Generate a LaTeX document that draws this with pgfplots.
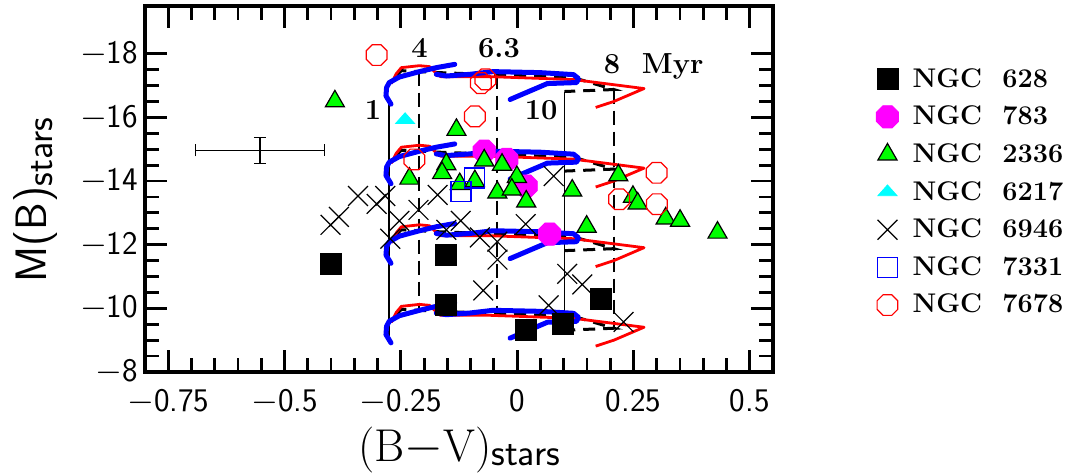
\documentclass[border=0pt]{standalone}
\usepackage{pgfplots}
\usepackage{pgfplotstable}
\pgfplotsset{compat=1.18}

\definecolor{mymag}{rgb}{1,0,1}
\definecolor{mycyan}{rgb}{0,1,1}
\definecolor{mygreen}{rgb}{0,1,0}
\definecolor{myred}{rgb}{1,0,0}
\definecolor{myblue}{rgb}{0,0,1}

% octagon marks (open and filled) and an open square
\pgfdeclareplotmark{octagon}{%
  \pgfpathmoveto{\pgfqpointpolar{22.5}{\pgfplotmarksize}}%
  \pgfpathlineto{\pgfqpointpolar{67.5}{\pgfplotmarksize}}%
  \pgfpathlineto{\pgfqpointpolar{112.5}{\pgfplotmarksize}}%
  \pgfpathlineto{\pgfqpointpolar{157.5}{\pgfplotmarksize}}%
  \pgfpathlineto{\pgfqpointpolar{202.5}{\pgfplotmarksize}}%
  \pgfpathlineto{\pgfqpointpolar{247.5}{\pgfplotmarksize}}%
  \pgfpathlineto{\pgfqpointpolar{292.5}{\pgfplotmarksize}}%
  \pgfpathlineto{\pgfqpointpolar{337.5}{\pgfplotmarksize}}%
  \pgfpathclose\pgfusepathqstroke}
\pgfdeclareplotmark{octagon*}{%
  \pgfpathmoveto{\pgfqpointpolar{22.5}{\pgfplotmarksize}}%
  \pgfpathlineto{\pgfqpointpolar{67.5}{\pgfplotmarksize}}%
  \pgfpathlineto{\pgfqpointpolar{112.5}{\pgfplotmarksize}}%
  \pgfpathlineto{\pgfqpointpolar{157.5}{\pgfplotmarksize}}%
  \pgfpathlineto{\pgfqpointpolar{202.5}{\pgfplotmarksize}}%
  \pgfpathlineto{\pgfqpointpolar{247.5}{\pgfplotmarksize}}%
  \pgfpathlineto{\pgfqpointpolar{292.5}{\pgfplotmarksize}}%
  \pgfpathlineto{\pgfqpointpolar{337.5}{\pgfplotmarksize}}%
  \pgfpathclose\pgfusepathqfillstroke}
\pgfdeclareplotmark{osquare}{%
  \pgfpathrectangle{\pgfqpoint{-\pgfplotmarksize}{-\pgfplotmarksize}}{\pgfqpoint{2\pgfplotmarksize}{2\pgfplotmarksize}}%
  \pgfusepathqstroke}

% tracks: one column per mass (shifted copies)
\pgfplotstableread{
x m1 m2 m3 m4
-0.2712 -16.416 -13.916 -11.416 -8.916
-0.2820 -16.675 -14.175 -11.675 -9.175
-0.2807 -16.938 -14.438 -11.938 -9.438
-0.2749 -17.094 -14.594 -12.094 -9.594
-0.2532 -17.269 -14.769 -12.269 -9.769
-0.2100 -17.438 -14.938 -12.438 -9.938
-0.1738 -17.563 -15.063 -12.563 -10.063
-0.1342 -17.666 -15.166 -12.666 -10.166
}\blueA
\pgfplotstableread{
x m1 m2 m3 m4
-0.1738 -17.353 -14.853 -12.353 -9.853
-0.1522 -17.300 -14.800 -12.300 -9.800
-0.1017 -17.353 -14.853 -12.353 -9.853
-0.0519 -17.438 -14.938 -12.438 -9.938
0.0498 -17.406 -14.906 -12.406 -9.906
0.1212 -17.344 -14.844 -12.344 -9.844
0.1320 -17.219 -14.719 -12.219 -9.719
0.1277 -17.094 -14.594 -12.094 -9.594
0.0649 -17.063 -14.563 -12.063 -9.563
-0.0152 -16.563 -14.063 -11.563 -9.063
}\blueB
\pgfplotstableread{
x m1 m2 m3 m4
-0.2705 -17.060 -14.560 -12.060 -9.560
-0.2597 -17.375 -14.875 -12.375 -9.875
-0.2489 -17.563 -15.063 -12.563 -10.063
-0.2100 -17.625 -15.125 -12.625 -10.125
-0.1883 -17.594 -15.094 -12.594 -10.094
-0.1732 -17.375 -14.875 -12.375 -9.875
-0.1645 -17.281 -14.781 -12.281 -9.781
-0.0584 -17.281 -14.781 -12.281 -9.781
0.1212 -17.188 -14.688 -12.188 -9.688
0.2727 -16.906 -14.406 -11.906 -9.406
0.2078 -16.500 -14.000 -11.500 -9.000
0.1688 -16.313 -13.813 -11.313 -8.813
}\redtrk
\pgfplotstableread{
x m1 m2 m3 m4
-0.2597 -17.313 -14.813 -12.313 -9.813
-0.2489 -17.469 -14.969 -12.469 -9.969
-0.2100 -17.438 -14.938 -12.438 -9.938
-0.1667 -17.406 -14.906 -12.406 -9.906
0.1212 -17.250 -14.750 -12.250 -9.750
0.2078 -16.875 -14.375 -11.875 -9.375
0.1017 -16.813 -14.313 -11.813 -9.313
}\blktrk

\begin{document}
\begin{tikzpicture}
\begin{axis}[
  name=ax,
  width=314pt, height=183pt, scale only axis,
  xmin=-0.8, xmax=0.55, ymin=-19.5, ymax=-8, y dir=reverse,
  xtick={-0.75,-0.5,-0.25,0,0.25,0.5},
  xticklabels={$-$0.75,$-$0.5,$-$0.25,0,0.25,0.5},
  ytick={-18,-16,-14,-12,-10,-8},
  yticklabels={$-$18,$-$16,$-$14,$-$12,$-$10,$-$8},
  minor x tick num=4, minor y tick num=3,
  tick align=inside,
  major tick length=11pt, minor tick length=7pt,
  every tick/.style={black, line width=1.4pt},
  axis line style={line width=1.6pt},
  tick label style={font=\fontsize{16.5}{20}\selectfont\sffamily},
  xticklabel style={yshift=-5pt},
  xlabel={{\fontsize{23}{26}\selectfont\rmfamily (B$-$V)}\raisebox{-0.22em}{\fontsize{19}{20}\selectfont\sffamily stars}},
  xlabel style={at={(axis description cs:0.5,-0.212)}, anchor=center},
  ylabel={{\fontsize{22}{26}\selectfont\sffamily M(B)}\raisebox{-0.3em}{\fontsize{19}{20}\selectfont\sffamily stars}},
  ylabel style={at={(axis description cs:-0.175,0.47)}, anchor=center},
  legend cell align=left,
  legend image code/.code={\draw[mark repeat=2,mark phase=2,#1] plot coordinates {(0pt,0pt) (7pt,0pt) (14pt,0pt)};},
  legend style={at={(axis description cs:1.164,0.842)}, anchor=north west,
    draw=none, fill=none, inner sep=0pt, row sep=3.9pt, column sep=5pt,
    font=\fontsize{13.5}{16}\selectfont\bfseries},
]
% isochrone lines
\addplot[black, line width=0.8pt, forget plot] coordinates {(-0.2749,-16.42) (-0.2749,-8.95)};
\addplot[black, line width=0.8pt, dash pattern=on 7pt off 3.5pt, forget plot] coordinates {(-0.2110,-17.44) (-0.2110,-9.94)};
\addplot[black, line width=0.8pt, dash pattern=on 7pt off 3.5pt, forget plot] coordinates {(-0.0433,-17.34) (-0.0433,-9.84)};
\addplot[black, line width=0.8pt, forget plot] coordinates {(0.1017,-16.81) (0.1017,-9.31)};
\addplot[black, line width=0.8pt, dash pattern=on 7pt off 3.5pt, forget plot] coordinates {(0.2078,-16.875) (0.2078,-9.375)};
% tracks
\pgfplotsinvokeforeach{1,...,4}{
  \addplot[black, line width=1.5pt, dash pattern=on 6pt off 4pt, forget plot] table[x=x,y=m#1]{\blktrk};
  \addplot[myred, line width=1.4pt, line join=round, forget plot] table[x=x,y=m#1]{\redtrk};
  \addplot[myblue, line width=2.5pt, line join=round, line cap=round, forget plot] table[x=x,y=m#1]{\blueA};
  \addplot[myblue, line width=2.5pt, line join=round, line cap=round, forget plot] table[x=x,y=m#1]{\blueB};
}
% typical error bar
\addplot[black, line width=0.6pt, mark=none, forget plot,
  error bars/.cd, x dir=both, x explicit, y dir=both, y explicit,
  error bar style={line width=0.6pt},
  error mark=-, error mark options={rotate=90, black, line width=0.6pt, mark size=3pt}]
  coordinates {(-0.553,-14.96) +- (0.139,0.417)};
% labels
\node[font=\fontsize{14.5}{17}\selectfont\bfseries] at (axis cs:-0.310,-16.22) {1};
\node[font=\fontsize{14.5}{17}\selectfont\bfseries] at (axis cs:-0.210,-18.18) {4};
\node[font=\fontsize{14.5}{17}\selectfont\bfseries] at (axis cs:-0.039,-18.19) {6.3};
\node[font=\fontsize{14.5}{17}\selectfont\bfseries] at (axis cs:0.0515,-16.24) {10};
\node[font=\fontsize{14.5}{17}\selectfont\bfseries, anchor=base] at (axis cs:0.2933,-17.39) {8\ \ Myr};
% NGC 628
\addplot[black, only marks, mark=square*, mark size=5.25pt, mark options={fill=black, draw=black}] coordinates {
(-0.4011,-11.397) (-0.1522,-11.688) (-0.1522,-10.109) (0.0195,-9.313) (0.0989,-9.500) (0.1797,-10.303)};
\addlegendentry{NGC\ \ 628}
% NGC 783
\addplot[mymag, only marks, mark=octagon*, mark size=6pt, mark options={fill=mymag, draw=mymag}] coordinates {
(-0.0708,-14.938) (-0.0223,-14.678) (0.0195,-13.844) (0.0699,-12.334)};
\addlegendentry{NGC\ \ 783}
% NGC 2336
\addplot[black, only marks, mark=triangle*, mark size=5.5pt, mark options={fill=mygreen, draw=black, line width=0.6pt}] coordinates {
(-0.3918,-16.504) (-0.1305,-15.608) (-0.2316,-14.076) (-0.1522,-14.529) (-0.1613,-14.248)
(-0.1234,-13.904) (-0.0708,-14.648) (-0.0325,-14.514) (-0.0006,-14.129) (-0.0909,-13.998)
(-0.0426,-13.639) (-0.0115,-13.733) (0.0195,-13.358) (0.1184,-13.701) (0.1494,-12.567)
(0.2175,-14.179) (0.2489,-13.504) (0.2591,-13.295) (0.3193,-12.826) (0.3502,-12.754)
(0.4307,-12.379)};
\addlegendentry{NGC\ \ 2336}
% NGC 6217
\addplot[mycyan, only marks, mark=triangle*, mark size=5.5pt, mark options={fill=mycyan, draw=mycyan, yscale=0.65}] coordinates {
(-0.2409,-15.92)};
\addlegendentry{NGC\ \ 6217}
% NGC 6946
\addplot[black, only marks, mark=x, mark size=7pt, mark options={draw=black, line width=0.6pt}] coordinates {
(-0.4011,-12.625) (-0.3831,-12.875) (-0.3420,-13.531) (-0.3020,-13.281) (-0.2835,-13.531)
(-0.2121,-13.094) (-0.1710,-13.563) (-0.2532,-12.750) (-0.2727,-12.188) (-0.1522,-12.469)
(-0.1212,-12.750) (-0.0801,-12.228) (-0.0426,-12.094) (-0.0422,-11.531) (0.0184,-12.647)
(0.0786,-14.156) (-0.0729,-10.563) (0.1076,-11.084) (0.1400,-10.750) (0.0677,-10.094)
(0.2288,-9.572)};
\addlegendentry{NGC\ \ 6946}
% NGC 7331
\addplot[myblue, only marks, mark=osquare, mark size=5pt, mark options={draw=myblue, line width=0.8pt}, forget plot] coordinates {
(-0.0920,-14.103) (-0.1212,-13.672)};
\addlegendimage{legend image code/.code={\draw[myblue, line width=0.8pt] (2pt,-5pt) rectangle (12pt,5pt);}}
\addlegendentry{NGC\ \ 7331}
% NGC 7678
\addplot[myred, only marks, mark=octagon, mark size=5.6pt, mark options={draw=myred, line width=0.6pt}] coordinates {
(-0.3020,-17.959) (-0.0779,-17.078) (-0.0682,-17.194) (-0.0909,-16.031) (-0.2208,-14.678)
(0.2998,-14.259) (0.2193,-13.428) (0.3002,-13.272)};
\addlegendentry{NGC\ \ 7678}
\end{axis}
\pgfresetboundingbox
\path ([shift={(-72.5pt,-51pt)}]ax.south west) rectangle ([shift={(147.5pt,3pt)}]ax.north east);
\end{tikzpicture}
\end{document}
